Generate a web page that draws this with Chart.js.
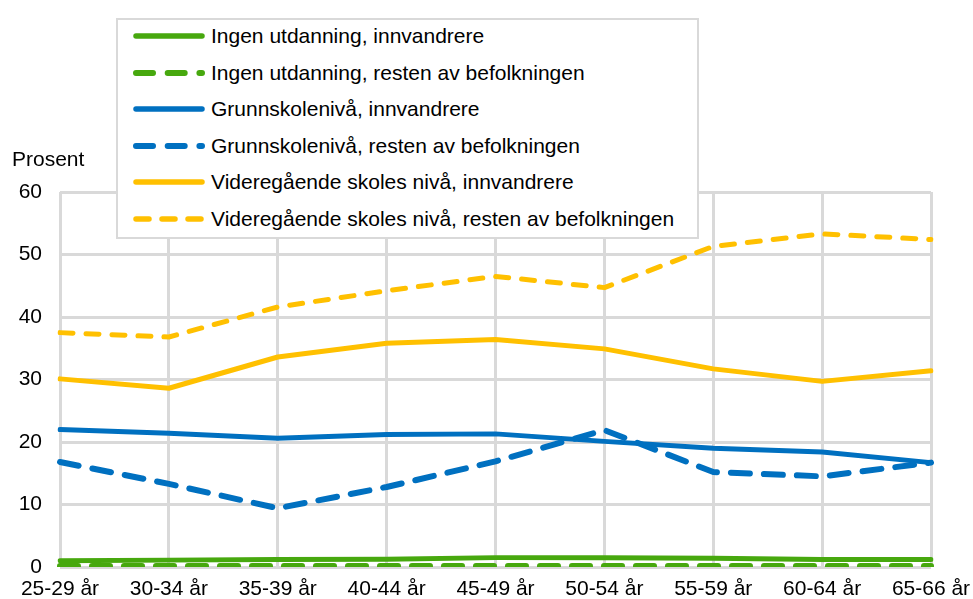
<!DOCTYPE html>
<html lang="no">
<head>
    <meta charset="UTF-8">
    <title>Prosent etter alder og utdanning</title>
    <script src="https://cdn.jsdelivr.net/npm/chart.js"></script>
    <style>
        body {
            margin: 0;
            background: #fff;
            font-family: "Liberation Sans", Arial, sans-serif;
        }
        .wrap {
            position: relative;
            width: 973px;
            height: 599px;
        }
        #unit {
            position: absolute;
            left: 12px;
            top: 147px;
            font-size: 21px;
            line-height: 24px;
            color: #000;
        }
        #legend {
            position: absolute;
            left: 116px;
            top: 18px;
            width: 579px;
            height: 217px;
            background: #fff;
            border: 2px solid #d9d9d9;
        }
        .item {
            position: absolute;
            left: 12px;
            height: 24px;
            display: flex;
            align-items: center;
            font-size: 21px;
            line-height: 24px;
            color: #000;
            white-space: nowrap;
        }
    </style>
</head>
<body>
    <div class="wrap">
        <canvas id="chart" width="973" height="599"></canvas>
        <div id="unit">Prosent</div>
        <div id="legend"></div>
    </div>

    <script>
        // Aldersgrupper
        const ageGroups = ['25-29 år', '30-34 år', '35-39 år', '40-44 år', '45-49 år', '50-54 år', '55-59 år', '60-64 år', '65-66 år'];

        // Serier (prosent)
        const ingenInnv = [1.0, 1.1, 1.2, 1.25, 1.5, 1.5, 1.4, 1.2, 1.2];
        const ingenResten = [0.15, 0.15, 0.15, 0.15, 0.15, 0.15, 0.15, 0.15, 0.15];
        const grunnInnv = [22.0, 21.4, 20.6, 21.2, 21.3, 20.1, 19.0, 18.4, 16.7];
        const grunnResten = [16.8, 13.3, 9.4, 12.8, 16.9, 21.9, 15.2, 14.5, 16.7];
        const vgsInnv = [30.1, 28.6, 33.6, 35.8, 36.4, 34.9, 31.7, 29.7, 31.4];
        const vgsResten = [37.5, 36.8, 41.6, 44.2, 46.5, 44.7, 51.3, 53.3, 52.4];

        const yTicks = [0, 10, 20, 30, 40, 50, 60];

        const green = '#47a80e';
        const blue = '#0070c0';
        const yellow = '#ffc000';

        const series = [
            { label: 'Ingen utdanning, innvandrere', data: ingenInnv, color: green, dash: [], width: 5 },
            { label: 'Ingen utdanning, resten av befolkningen', data: ingenResten, color: green, dash: [18, 14], width: 6 },
            { label: 'Grunnskolenivå, innvandrere', data: grunnInnv, color: blue, dash: [], width: 5 },
            { label: 'Grunnskolenivå, resten av befolkningen', data: grunnResten, color: blue, dash: [19, 14], width: 6 },
            { label: 'Videregående skoles nivå, innvandrere', data: vgsInnv, color: yellow, dash: [], width: 5 },
            { label: 'Videregående skoles nivå, resten av befolkningen', data: vgsResten, color: yellow, dash: [13, 13], width: 5 }
        ];

        const ctx = document.getElementById('chart').getContext('2d');
        const chart = new Chart(ctx, {
            type: 'line',
            data: {
                labels: ageGroups,
                datasets: series.map((s, i) => ({
                    label: s.label,
                    data: s.data,
                    borderColor: s.color,
                    backgroundColor: s.color,
                    borderWidth: s.width,
                    borderDash: s.dash,
                    borderCapStyle: 'round',
                    borderJoinStyle: 'round',
                    pointRadius: 0,
                    tension: 0,
                    fill: false,
                    order: series.length - i
                }))
            },
            options: {
                responsive: false,
                animation: false,
                layout: {
                    padding: { top: 192, right: 42, left: 0, bottom: 0 }
                },
                scales: {
                    x: {
                        offset: false,
                        grid: { color: '#d9d9d9', lineWidth: 3, drawTicks: false },
                        border: { display: false },
                        ticks: {
                            color: '#000',
                            padding: 10,
                            maxRotation: 0,
                            autoSkip: false,
                            font: { family: '"Liberation Sans", Arial, sans-serif', size: 21 }
                        },
                        afterFit: (scale) => {
                            scale.height = 32;
                            scale.paddingLeft = 0;
                            scale.paddingRight = 0;
                        }
                    },
                    y: {
                        min: 0,
                        max: 60,
                        afterBuildTicks: (scale) => { scale.ticks = yTicks.map(v => ({ value: v })); },
                        grid: { color: '#d9d9d9', lineWidth: 3, drawTicks: false },
                        border: { display: false },
                        ticks: {
                            color: '#000',
                            padding: 18,
                            font: { family: '"Liberation Sans", Arial, sans-serif', size: 21 }
                        },
                        afterFit: (scale) => { scale.width = 60; }
                    }
                },
                plugins: {
                    legend: { display: false },
                    tooltip: { enabled: false }
                }
            }
        });

        // Legende som HTML, bygget fra seriene
        const legend = document.getElementById('legend');
        series.forEach((s, i) => {
            const row = document.createElement('div');
            row.className = 'item';
            row.style.top = (4 + i * 36.6) + 'px';
            let dash = '';
            if (s.dash.length) {
                dash = s.color === yellow ? 'stroke-dasharray="13 13"' : 'stroke-dasharray="17 14.7"';
            }
            const w = s.dash.length && s.color !== yellow ? 6 : 5.5;
            row.innerHTML =
                `<svg width="81" height="12"><line x1="6" y1="6" x2="72" y2="6" stroke="${s.color}" stroke-width="${w}" stroke-linecap="round" ${dash}></line></svg>` +
                `<span>${s.label}</span>`;
            legend.appendChild(row);
        });
    </script>
</body>
</html>
